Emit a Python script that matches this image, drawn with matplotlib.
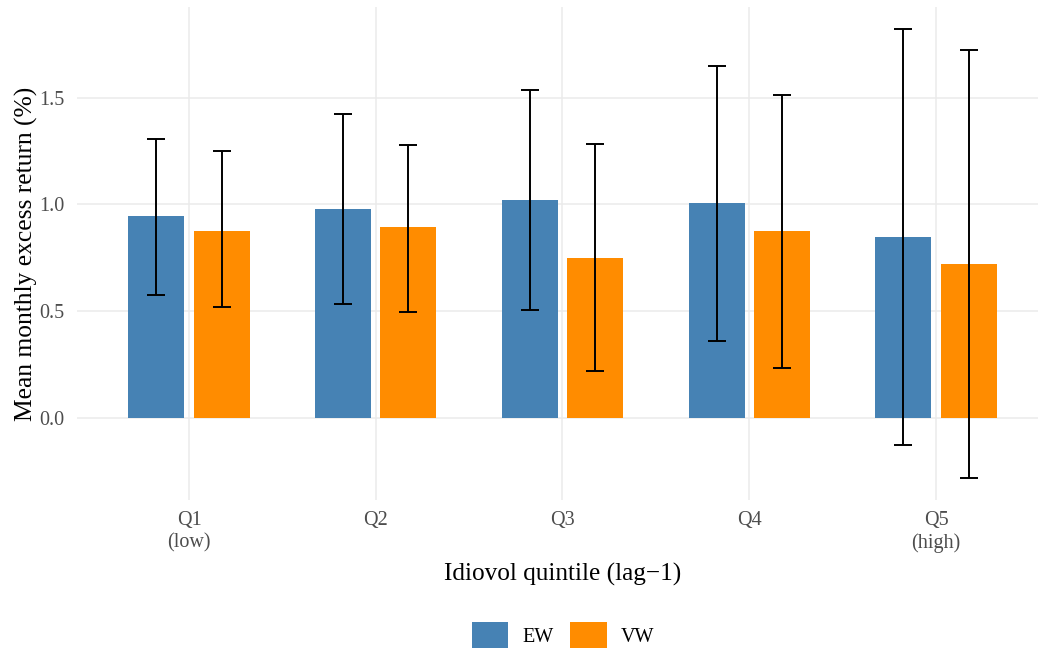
import numpy as np
import matplotlib
matplotlib.use("Agg")
import matplotlib.pyplot as plt
from matplotlib.patches import Patch

# values (mean monthly excess return, %)
quintiles = ["Q1\n(low)", "Q2", "Q3", "Q4", "Q5\n(high)"]
ew_mean = [0.944, 0.981, 1.023, 1.005, 0.846]
ew_lo = [0.579, 0.537, 0.506, 0.360, -0.126]
ew_hi = [1.308, 1.421, 1.537, 1.645, 1.818]
vw_mean = [0.878, 0.893, 0.752, 0.878, 0.724]
vw_lo = [0.519, 0.498, 0.221, 0.238, -0.276]
vw_hi = [1.248, 1.280, 1.284, 1.514, 1.720]

plt.rcParams["font.family"] = ["Liberation Serif", "DejaVu Serif"]

W, H = 1038, 651
fig = plt.figure(figsize=(W / 100, H / 100), dpi=100)
ax = fig.add_axes([77 / W, 151 / H, (1048 - 77) / W, 493 / H])

x = np.arange(1, len(quintiles) + 1)
off, bw = 0.175, 0.3
blue, orange = "#4682B4", "#FF8C00"

ax.bar(x - off, ew_mean, width=bw, color=blue, zorder=2)
ax.bar(x + off, vw_mean, width=bw, color=orange, zorder=2)

for xs, m, lo, hi in [(x - off, ew_mean, ew_lo, ew_hi), (x + off, vw_mean, vw_lo, vw_hi)]:
    m = np.array(m)
    yerr = [m - np.array(lo), np.array(hi) - m]
    ax.errorbar(xs, m, yerr=yerr, fmt="none", ecolor="black", elinewidth=1.4,
                capsize=6.8, capthick=1.4, zorder=3)

ax.set_xlim(0.4, 5.6)
ax.set_ylim(-0.381, 1.923)
ax.set_yticks([0.0, 0.5, 1.0, 1.5])
ax.set_yticklabels(["0.0", "0.5", "1.0", "1.5"])
ax.set_xticks(x)
ax.set_xticklabels(quintiles, linespacing=1.2)

ax.grid(True, color="#EBEBEB", linewidth=1.1, zorder=0)
ax.set_axisbelow(True)
for s in ax.spines.values():
    s.set_visible(False)
ax.tick_params(length=0, labelsize=14.5, labelcolor="#4D4D4D")
ax.tick_params(axis="y", pad=9)
ax.tick_params(axis="x", pad=8)

ax.set_ylabel("Mean monthly excess return (%)", fontsize=18.4, labelpad=1)
ax.set_xlabel("Idiovol quintile (lag\u22121)", fontsize=18.2, labelpad=7)

handles = [Patch(facecolor=blue, label="EW"), Patch(facecolor=orange, label="VW")]
fig.legend(handles=handles, loc="center", bbox_to_anchor=(563 / W, 16 / H), ncol=2,
           frameon=False, fontsize=14.5, handlelength=1.8, handleheight=1.65,
           handletextpad=0.7, columnspacing=0.85)

fig.savefig("out.png", dpi=100)
